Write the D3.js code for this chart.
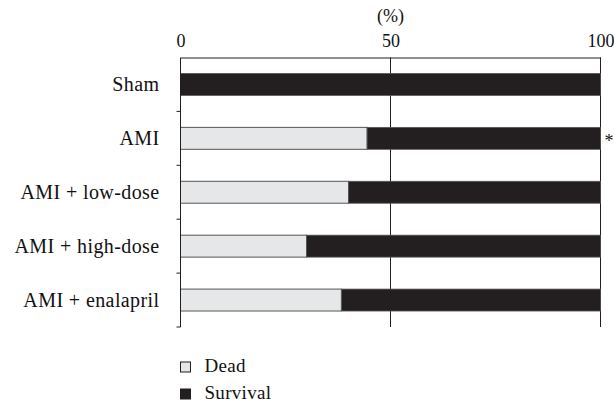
<!DOCTYPE html>
<html>
<head>
<meta charset="utf-8">
<script src="https://cdn.jsdelivr.net/npm/d3@7"></script>
<style>
  body { margin: 0; background: #fff; }
  svg { display: block; font-family: "Liberation Serif", "DejaVu Serif", serif; }
</style>
</head>
<body>
<svg id="chart"></svg>
<script>
const size = { w: 614, h: 406 };
const margin = { t: 57.5, r: 13.5, b: 79, l: 180.5 };

// data (percent dead; survival is the rest)
const groups = ['Sham', 'AMI', 'AMI + low-dose', 'AMI + high-dose', 'AMI + enalapril'];
const dead = [0, 44.4, 40, 30, 38.3];
const survival = dead.map(d => 100 - d);
const marks = ['', '*', '', '', ''];
const xTicks = [0, 50, 100];
const legendLabels = ['Dead', 'Survival'];

const colors = { dead: '#e6e7e8', survival: '#231f20', ink: '#231f20' };

const svg = d3.select('svg#chart')
    .attr('width', size.w)
    .attr('height', size.h);

const w = size.w - margin.l - margin.r;
const h = size.h - margin.t - margin.b;

const g = svg.append('g')
    .attr('transform', `translate(${margin.l}, ${margin.t})`);

const x = d3.scaleLinear().domain([0, 100]).range([0, w]);
const pad = 0.593;
const y = d3.scaleBand().domain(groups).range([0, h])
    .paddingInner(pad).paddingOuter(pad / 2);

const rows = groups.map((name, i) => ({ name, dead: dead[i], survival: survival[i], mark: marks[i] }));

// grid lines at 50 and 100
g.selectAll('line.grid')
    .data(xTicks.slice(1))
    .join('line')
    .attr('class', 'grid')
    .attr('x1', d => x(d)).attr('x2', d => x(d))
    .attr('y1', 0).attr('y2', h)
    .attr('stroke', colors.ink)
    .attr('stroke-width', 1);

// survival bars (from dead end to 100)
g.selectAll('rect.surv')
    .data(rows)
    .join('rect')
    .attr('class', 'surv')
    .attr('x', d => x(d.dead))
    .attr('y', d => y(d.name))
    .attr('width', d => x(d.dead + d.survival) - x(d.dead))
    .attr('height', y.bandwidth())
    .attr('fill', colors.survival)
    .attr('stroke', '#555')
    .attr('stroke-width', 0.8);

// dead bars
g.selectAll('rect.dead')
    .data(rows.filter(d => d.dead > 0))
    .join('rect')
    .attr('class', 'dead')
    .attr('x', x(0))
    .attr('y', d => y(d.name))
    .attr('width', d => x(d.dead))
    .attr('height', y.bandwidth())
    .attr('fill', colors.dead)
    .attr('stroke', '#555')
    .attr('stroke-width', 1);

// top axis
const xAxis = g.append('g')
    .call(d3.axisTop(x).tickValues(xTicks).tickSize(0).tickSizeOuter(0).tickPadding(10.5));
xAxis.select('.domain').attr('stroke', colors.ink);
xAxis.selectAll('text')
    .attr('fill', '#111')
    .style('font-size', '18px')
    .style('font-family', '"Liberation Serif", serif');

g.append('text')
    .attr('x', x(50))
    .attr('y', -36)
    .attr('text-anchor', 'middle')
    .attr('fill', '#111')
    .style('font-size', '18px')
    .text('(%)');

// left axis line with ticks between groups
g.append('line')
    .attr('x1', 0).attr('x2', 0)
    .attr('y1', 0).attr('y2', h)
    .attr('stroke', colors.ink);

const bounds = groups.map(n => y(n) + y.bandwidth() + y.step() * pad / 2);
g.selectAll('line.ytick')
    .data(bounds)
    .join('line')
    .attr('class', 'ytick')
    .attr('x1', -4).attr('x2', 0)
    .attr('y1', d => d).attr('y2', d => d)
    .attr('stroke', colors.ink);

// group labels
g.selectAll('text.lab')
    .data(rows)
    .join('text')
    .attr('class', 'lab')
    .attr('x', -21)
    .attr('y', d => y(d.name) + y.bandwidth() / 2)
    .attr('dy', '0.35em')
    .attr('text-anchor', 'end')
    .attr('fill', '#111')
    .style('font-size', '20px')
    .style('letter-spacing', '0.4px')
    .text(d => d.name);

// significance marks
g.selectAll('text.mark')
    .data(rows.filter(d => d.mark))
    .join('text')
    .attr('class', 'mark')
    .attr('x', x(100) + 4)
    .attr('y', d => y(d.name) + y.bandwidth() / 2)
    .attr('dy', '0.5em')
    .attr('fill', '#111')
    .style('font-size', '18px')
    .text(d => d.mark);

// legend
const legend = svg.append('g')
    .attr('transform', `translate(${margin.l}, ${size.h - 44})`);
const legendItems = legend.selectAll('g')
    .data(legendLabels)
    .join('g')
    .attr('transform', (d, i) => `translate(0, ${i * 27})`);
legendItems.append('rect')
    .attr('x', 0).attr('y', 0)
    .attr('width', 10).attr('height', 10)
    .attr('fill', (d, i) => i === 0 ? colors.dead : colors.survival)
    .attr('stroke', colors.ink)
    .attr('stroke-width', 1);
legendItems.append('text')
    .attr('x', 24)
    .attr('y', 10)
    .attr('fill', '#111')
    .style('font-size', '19px')
    .style('letter-spacing', '0.3px')
    .text(d => d);
</script>
</body>
</html>
